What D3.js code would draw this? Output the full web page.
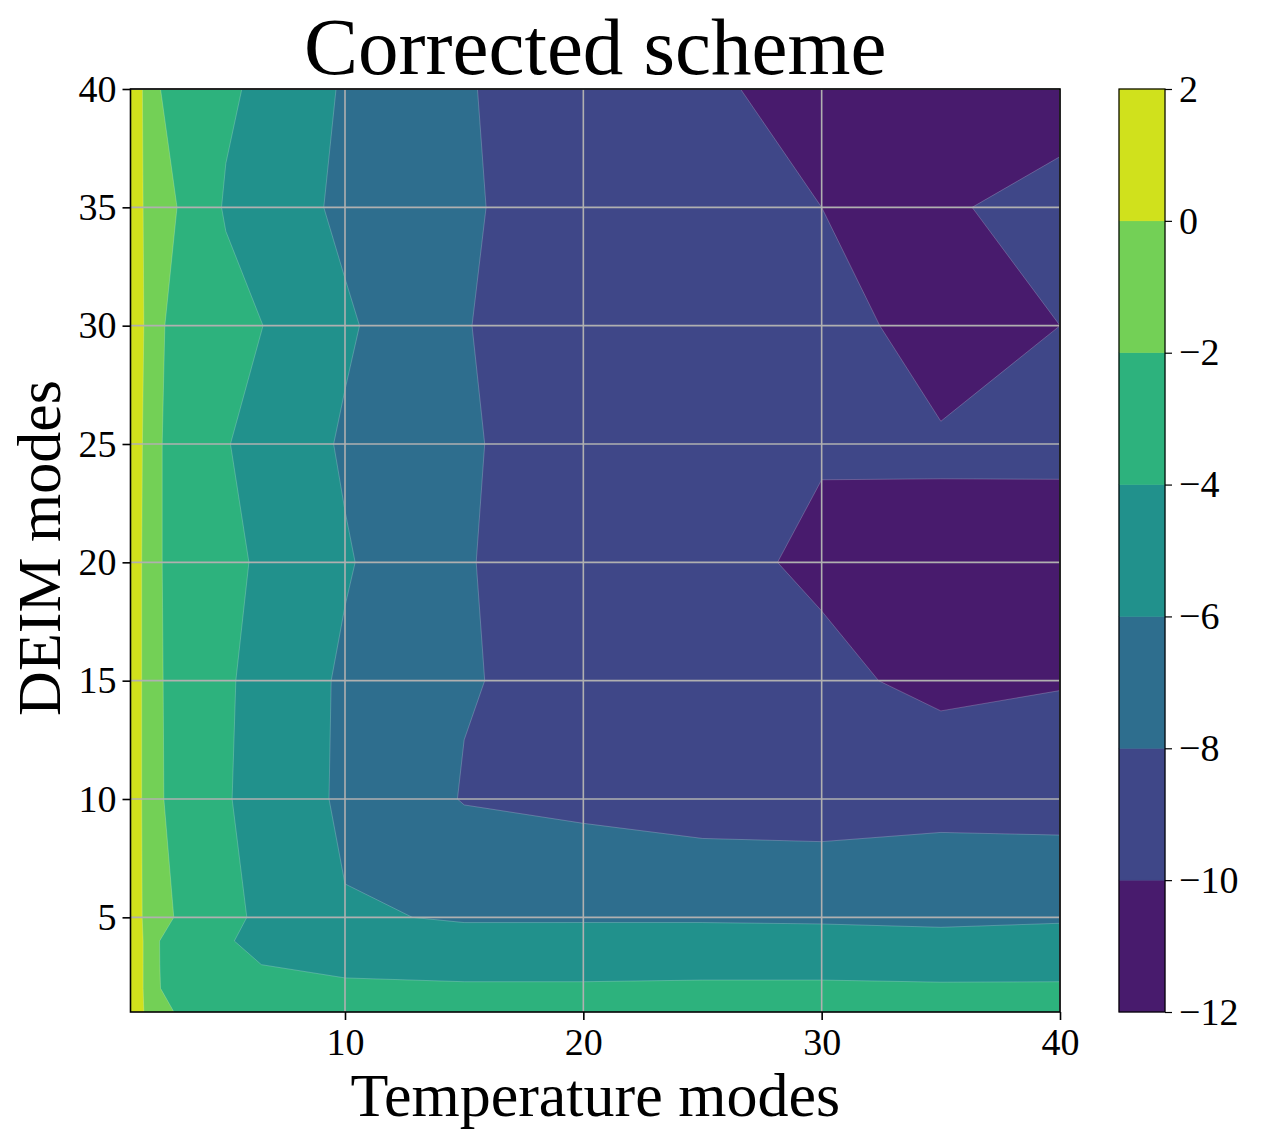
<!DOCTYPE html>
<html>
<head>
<meta charset="utf-8">
<script src="https://cdn.jsdelivr.net/npm/d3@7"></script>
<style>
body { margin: 0; background: #fff; }
text { font-family: "Liberation Serif", "DejaVu Serif", serif; fill: #000; }
</style>
</head>
<body>
<div id="chart"></div>
<script>
// mode counts where the error was sampled
var tempModes = [1, 2, 3, 4, 5, 10, 15, 20, 25, 30, 35, 40];
var deimModes = [1, 2, 3, 4, 5, 10, 15, 20, 25, 30, 35, 40];

// log10 error, one row per DEIM mode count (bottom row first), columns follow tempModes
var logErr = [
    [1.78, -1.4, -2.13, -2.6, -3.0, -3.05, -3.1, -3.1, -3.05, -3.05, -3.1, -3.1],
    [1.8, -1.6, -3.14, -3.17, -3.2, -3.37, -3.69, -3.69, -3.57, -3.57, -3.72, -3.69],
    [1.8, -1.6, -3.34, -3.5, -3.66, -4.8, -4.8, -4.8, -4.8, -4.8, -4.8, -4.8],
    [1.8, -1.6, -3.42, -3.65, -3.9, -5.3, -5.65, -4.94, -4.94, -5.1, -5.45, -5.4],
    [1.54, -1.6, -2.09, -2.9, -3.6, -5.87, -6.1, -6.3, -6.3, -6.35, -6.4, -6.2],
    [1.42, -1.6, -2.6, -3.25, -3.87, -6.33, -8.1, -8.44, -8.85, -8.93, -8.63, -8.79],
    [1.42, -1.6, -2.68, -3.25, -3.79, -6.29, -7.9, -8.48, -9.5, -9.57, -10.47, -10.11],
    [1.42, -1.6, -2.81, -3.2, -3.56, -5.83, -7.82, -9.6, -9.49, -10.3, -10.12, -10.47],
    [1.6, -1.6, -2.81, -3.4, -3.91, -6.22, -7.7, -9.44, -9.6, -9.87, -9.95, -9.8],
    [1.78, -1.4, -2.76, -3.0, -3.21, -5.74, -7.87, -9.84, -9.9, -9.8, -10.21, -10.0],
    [1.8, -1.6, -2.02, -3.09, -4.2, -6.39, -7.7, -9.33, -9.5, -10.0, -10.16, -9.55],
    [1.6, -1.6, -3.14, -3.4, -3.66, -6.19, -7.8, -9.59, -9.7, -10.64, -10.8, -10.6]
];

var levels = [-12, -10, -8, -6, -4, -2, 0, 2];
var xTicks = [10, 20, 30, 40];
var yTicks = [5, 10, 15, 20, 25, 30, 35, 40];

var width = 1266,
    height = 1143;
// plot box (note: "top" is taken by window.top, so prefix these)
var pLeft = 130.5, pRight = 1060, pTop = 89, pBottom = 1012;
var fontTick = 38;

var svg = d3.select("#chart")
    .append("svg")
    .attr("width", width)
    .attr("height", height);

var x = d3.scaleLinear().domain([1, 40]).range([pLeft, pRight]);
var y = d3.scaleLinear().domain([1, 40]).range([pBottom, pTop]);

// colour of a band = viridis at the band middle (norm over the levels)
function bandColor(lo) {
    return d3.interpolateViridis((lo + 1 - levels[0]) / (levels[levels.length - 1] - levels[0]));
}

// d3.contours puts value i at grid coord i + 0.5; map that back to mode counts
function gridToMode(g, modes) {
    var u = Math.max(0, Math.min(modes.length - 1, g - 0.5));
    var i = Math.min(modes.length - 2, Math.floor(u));
    return modes[i] + (u - i) * (modes[i + 1] - modes[i]);
}

var proj = d3.geoTransform({
    point: function (gx, gy) {
        this.stream.point(x(gridToMode(gx, tempModes)), y(gridToMode(gy, deimModes)));
    }
});
var path = d3.geoPath(proj);

var flat = [];
logErr.forEach(function (row) {
    row.forEach(function (v) { flat.push(v); });
});

var bands = d3.contours()
    .size([tempModes.length, deimModes.length])
    .thresholds(levels.slice(0, -1))(flat);

svg.append("clipPath")
    .attr("id", "plotclip")
    .append("rect")
    .attr("x", pLeft).attr("y", pTop)
    .attr("width", pRight - pLeft).attr("height", pBottom - pTop);

// filled bands, stacked from lowest level up
svg.append("g")
    .attr("clip-path", "url(#plotclip)")
    .selectAll("path")
    .data(bands)
    .enter()
    .append("path")
    .attr("d", path)
    .attr("fill", function (d) { return bandColor(d.value); })
    .attr("stroke", "rgba(255,255,255,0.3)")
    .attr("stroke-width", 0.7)
    .attr("stroke-linejoin", "round");

// grid
var grid = svg.append("g")
    .attr("stroke", "#b0b0b0")
    .attr("stroke-width", 1.6);
grid.selectAll("line.gx")
    .data(xTicks)
    .enter()
    .append("line")
    .attr("x1", function (d) { return x(d); })
    .attr("x2", function (d) { return x(d); })
    .attr("y1", pTop).attr("y2", pBottom);
grid.selectAll("line.gy")
    .data(yTicks)
    .enter()
    .append("line")
    .attr("y1", function (d) { return y(d); })
    .attr("y2", function (d) { return y(d); })
    .attr("x1", pLeft).attr("x2", pRight);

function fmt(d) {
    return d < 0 ? "\u2212" + Math.abs(d) : String(d);
}

// axes
var xAxis = svg.append("g")
    .attr("transform", "translate(0," + pBottom + ")")
    .call(d3.axisBottom(x).tickValues(xTicks).tickSize(8).tickPadding(8).tickFormat(fmt));
var yAxis = svg.append("g")
    .attr("transform", "translate(" + pLeft + ",0)")
    .call(d3.axisLeft(y).tickValues(yTicks).tickSize(8).tickPadding(6).tickFormat(fmt));

[xAxis, yAxis].forEach(function (a) {
    a.select(".domain").remove();
    a.selectAll(".tick line").attr("stroke", "#000").attr("stroke-width", 1.6);
    a.selectAll(".tick text")
        .style("font-family", "'Liberation Serif', 'DejaVu Serif', serif")
        .style("font-size", fontTick + "px");
});

// spines
svg.append("rect")
    .attr("x", pLeft).attr("y", pTop)
    .attr("width", pRight - pLeft).attr("height", pBottom - pTop)
    .attr("fill", "none")
    .attr("stroke", "#000")
    .attr("stroke-width", 1.6);

// colorbar
var cbLeft = 1119, cbRight = 1165;
var c = d3.scaleLinear().domain([levels[0], levels[levels.length - 1]]).range([pBottom, pTop]);

svg.append("g")
    .selectAll("rect")
    .data(levels.slice(0, -1))
    .enter()
    .append("rect")
    .attr("x", cbLeft)
    .attr("width", cbRight - cbLeft)
    .attr("y", function (d) { return c(d + 2); })
    .attr("height", function (d) { return c(d) - c(d + 2); })
    .attr("fill", function (d) { return bandColor(d); })
    .attr("stroke", function (d) { return bandColor(d); })
    .attr("stroke-width", 0.5);

svg.append("rect")
    .attr("x", cbLeft).attr("y", pTop)
    .attr("width", cbRight - cbLeft).attr("height", pBottom - pTop)
    .attr("fill", "none")
    .attr("stroke", "#000")
    .attr("stroke-width", 1.2);

var cAxis = svg.append("g")
    .attr("transform", "translate(" + cbRight + ",0)")
    .call(d3.axisRight(c).tickValues(levels).tickSize(7).tickPadding(7).tickFormat(fmt));
cAxis.select(".domain").remove();
cAxis.selectAll(".tick line").attr("stroke", "#000").attr("stroke-width", 1.2);
cAxis.selectAll(".tick text")
    .style("font-family", "'Liberation Serif', 'DejaVu Serif', serif")
    .style("font-size", fontTick + "px");

// titles
svg.append("text")
    .attr("x", (pLeft + pRight) / 2)
    .attr("y", 74)
    .attr("text-anchor", "middle")
    .style("font-size", "81px")
    .text("Corrected scheme");

svg.append("text")
    .attr("x", (pLeft + pRight) / 2)
    .attr("y", 1116)
    .attr("text-anchor", "middle")
    .style("font-size", "62px")
    .text("Temperature modes");

svg.append("text")
    .attr("transform", "translate(60," + 548 + ") rotate(-90)")
    .attr("text-anchor", "middle")
    .style("font-size", "62px")
    .text("DEIM modes");
</script>
</body>
</html>
